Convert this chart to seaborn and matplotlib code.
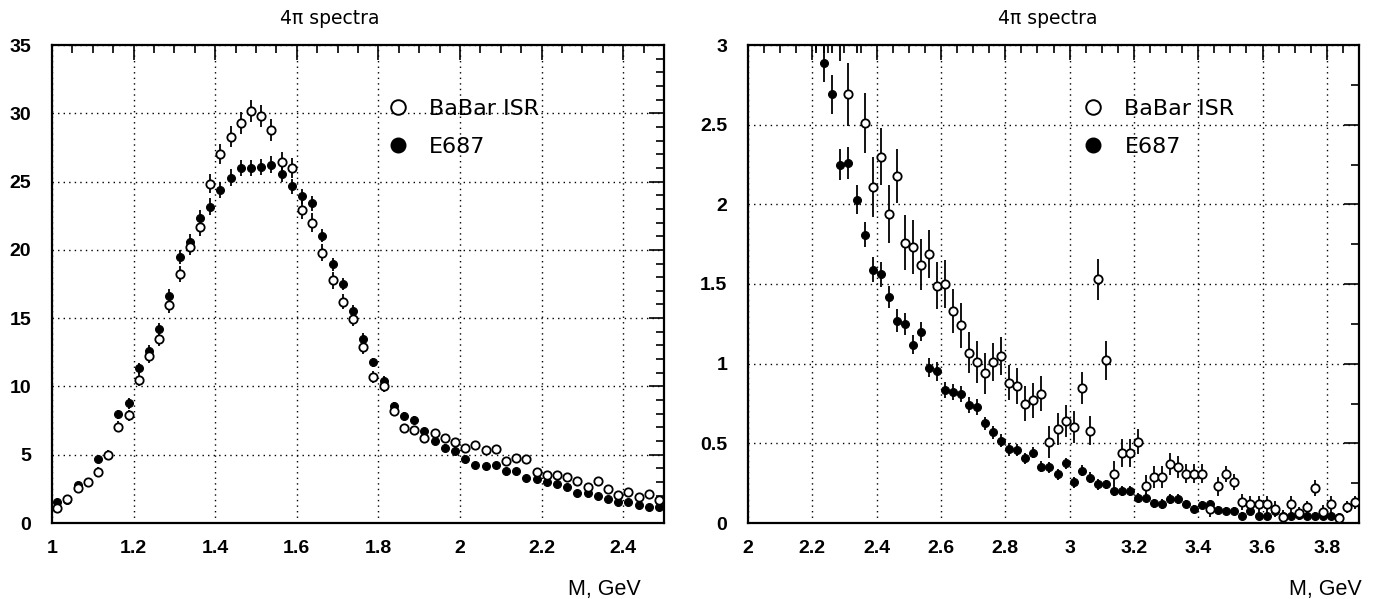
import numpy as np
import pandas as pd
import matplotlib
matplotlib.use('Agg')
import matplotlib.pyplot as plt
from matplotlib.lines import Line2D
from matplotlib.ticker import MultipleLocator, FuncFormatter
import seaborn as sns

# ---- dados ----
# painel esquerdo: 1.0 - 2.5 GeV
m_esq = [1.0125, 1.0375, 1.0625, 1.0875, 1.1125, 1.1375, 1.1625, 1.1875, 1.2125, 1.2375,
         1.2625, 1.2875, 1.3125, 1.3375, 1.3625, 1.3875, 1.4125, 1.4375, 1.4625, 1.4875,
         1.5125, 1.5375, 1.5625, 1.5875, 1.6125, 1.6375, 1.6625, 1.6875, 1.7125, 1.7375,
         1.7625, 1.7875, 1.8125, 1.8375, 1.8625, 1.8875, 1.9125, 1.9375, 1.9625, 1.9875,
         2.0125, 2.0375, 2.0625, 2.0875, 2.1125, 2.1375, 2.1625, 2.1875, 2.2125, 2.2375,
         2.2625, 2.2875, 2.3125, 2.3375, 2.3625, 2.3875, 2.4125, 2.4375, 2.4625, 2.4875]

babar_esq = [1.07, 1.75, 2.58, 3.0, 3.76, 5.0, 7.05, 7.9, 10.5, 12.24,
             13.44, 15.95, 18.24, 20.22, 21.66, 24.85, 27.02, 28.29, 29.29, 30.19,
             29.8, 28.76, 26.41, 26.0, 22.93, 22.0, 19.8, 17.76, 16.19, 14.95,
             12.9, 10.7, 10.02, 8.22, 6.93, 6.8, 6.19, 6.56, 6.19, 5.9,
             5.46, 5.71, 5.34, 5.44, 4.56, 4.73, 4.68, 3.76, 3.49, 3.49,
             3.39, 3.07, 2.66, 3.1, 2.49, 2.05, 2.24, 1.88, 2.12, 1.68]
babar_esq_err = [0.25, 0.25, 0.3, 0.3, 0.35, 0.35, 0.4, 0.4, 0.45, 0.5,
                 0.5, 0.55, 0.6, 0.6, 0.65, 0.7, 0.75, 0.75, 0.8, 0.8,
                 0.8, 0.8, 0.75, 0.75, 0.7, 0.7, 0.65, 0.6, 0.55, 0.5,
                 0.5, 0.45, 0.4, 0.35, 0.3, 0.3, 0.3, 0.3, 0.3, 0.3,
                 0.25, 0.25, 0.25, 0.25, 0.25, 0.25, 0.2, 0.2, 0.2, 0.2,
                 0.2, 0.2, 0.2, 0.2, 0.2, 0.2, 0.2, 0.2, 0.2, 0.2]

e687_esq = [1.51, 1.71, 2.78, 2.97, 4.68, 4.95, 7.95, 8.76, 11.32, 12.61,
            14.17, 16.6, 19.49, 20.58, 22.34, 23.17, 24.37, 25.29, 26.0, 26.0,
            26.07, 26.25, 25.54, 24.66, 23.93, 23.41, 21.05, 18.93, 17.49, 15.51,
            13.5, 11.76, 10.41, 8.58, 7.85, 7.56, 6.71, 6.02, 5.51, 5.29,
            4.68, 4.24, 4.14, 4.27, 3.8, 3.8, 3.32, 3.2, 2.97, 2.83,
            2.61, 2.17, 2.22, 1.98, 1.76, 1.51, 1.51, 1.32, 1.19, 1.19]
e687_esq_err = [0.2, 0.2, 0.25, 0.25, 0.3, 0.3, 0.35, 0.4, 0.4, 0.45,
                0.45, 0.5, 0.5, 0.55, 0.55, 0.6, 0.6, 0.6, 0.6, 0.6,
                0.6, 0.6, 0.6, 0.55, 0.55, 0.55, 0.5, 0.5, 0.45, 0.45,
                0.4, 0.35, 0.35, 0.3, 0.3, 0.3, 0.25, 0.25, 0.25, 0.25,
                0.25, 0.25, 0.2, 0.2, 0.2, 0.2, 0.2, 0.2, 0.2, 0.2,
                0.2, 0.2, 0.2, 0.2, 0.15, 0.15, 0.15, 0.15, 0.15, 0.15]

# painel direito: 2.0 - 3.9 GeV
m_dir = [2.2125, 2.2375, 2.2625, 2.2875, 2.3125, 2.3375, 2.3625, 2.3875, 2.4125, 2.4375,
         2.4625, 2.4875, 2.5125, 2.5375, 2.5625, 2.5875, 2.6125, 2.6375, 2.6625, 2.6875,
         2.7125, 2.7375, 2.7625, 2.7875, 2.8125, 2.8375, 2.8625, 2.8875, 2.9125, 2.9375,
         2.9625, 2.9875, 3.0125, 3.0375, 3.0625, 3.0875, 3.1125, 3.1375, 3.1625, 3.1875,
         3.2125, 3.2375, 3.2625, 3.2875, 3.3125, 3.3375, 3.3625, 3.3875, 3.4125, 3.4375,
         3.4625, 3.4875, 3.5125, 3.5375, 3.5625, 3.5875, 3.6125, 3.6375, 3.6625, 3.6875,
         3.7125, 3.7375, 3.7625, 3.7875, 3.8125, 3.8375, 3.8625, 3.8875]

babar_dir = [3.4, 3.5, 3.3, 3.35, 2.69, 3.3, 2.51, 2.11, 2.30, 1.94,
             2.18, 1.76, 1.73, 1.62, 1.69, 1.49, 1.50, 1.33, 1.24, 1.07,
             1.01, 0.94, 1.01, 1.05, 0.88, 0.86, 0.75, 0.77, 0.81, 0.51,
             0.59, 0.64, 0.60, 0.85, 0.58, 1.53, 1.02, 0.31, 0.44, 0.44,
             0.51, 0.23, 0.29, 0.29, 0.37, 0.35, 0.31, 0.31, 0.31, 0.09,
             0.23, 0.31, 0.26, 0.13, 0.12, 0.12, 0.12, 0.09, 0.04, 0.12,
             0.06, 0.10, 0.22, 0.07, 0.12, 0.03, 0.10, 0.13]
babar_dir_err = [0.45, 0.55, 0.35, 0.45, 0.2, 0.35, 0.19, 0.19, 0.18, 0.18,
                 0.17, 0.17, 0.17, 0.16, 0.15, 0.15, 0.15, 0.14, 0.14, 0.13,
                 0.13, 0.13, 0.12, 0.12, 0.11, 0.11, 0.11, 0.11, 0.11, 0.1,
                 0.1, 0.1, 0.1, 0.1, 0.09, 0.13, 0.12, 0.08, 0.09, 0.09,
                 0.08, 0.07, 0.07, 0.07, 0.07, 0.07, 0.06, 0.06, 0.06, 0.05,
                 0.06, 0.05, 0.05, 0.05, 0.05, 0.05, 0.05, 0.05, 0.04, 0.05,
                 0.04, 0.04, 0.05, 0.04, 0.05, 0.03, 0.04, 0.04]

e687_dir = [3.12, 2.889, 2.69, 2.25, 2.26, 2.03, 1.81, 1.59, 1.56, 1.42,
            1.27, 1.25, 1.12, 1.20, 0.975, 0.952, 0.835, 0.824, 0.808, 0.743,
            0.728, 0.625, 0.569, 0.516, 0.462, 0.458, 0.406, 0.441, 0.354, 0.349,
            0.305, 0.374, 0.255, 0.328, 0.285, 0.243, 0.243, 0.201, 0.201, 0.201,
            0.159, 0.159, 0.123, 0.12, 0.149, 0.149, 0.117, 0.086, 0.113, 0.117,
            0.082, 0.078, 0.078, 0.046, 0.078, 0.046, 0.046, 0.078, 0.046, 0.046,
            0.05, 0.046, 0.046, 0.046, 0.046, 0.036]
e687_dir_err = [0.15, 0.12, 0.12, 0.1, 0.1, 0.09, 0.08, 0.08, 0.08, 0.07,
                0.07, 0.07, 0.06, 0.06, 0.06, 0.06, 0.05, 0.05, 0.05, 0.05,
                0.05, 0.04, 0.04, 0.04, 0.04, 0.04, 0.035, 0.035, 0.035, 0.035,
                0.035, 0.035, 0.035, 0.035, 0.035, 0.035, 0.03, 0.03, 0.03, 0.03,
                0.03, 0.03, 0.03, 0.03, 0.03, 0.03, 0.025, 0.025, 0.025, 0.025,
                0.025, 0.025, 0.025, 0.025, 0.025, 0.025, 0.02, 0.02, 0.02, 0.02,
                0.02, 0.02, 0.02, 0.02, 0.02, 0.02]

titulo = '4\u03c0 spectra'
rotulo_x = 'M, GeV'

# ---- estilo ----
sns.set_theme(style='white')
plt.rcParams['font.family'] = ['DejaVu Sans']
plt.rcParams['text.color'] = 'black'

W, H = 1386, 599
fig = plt.figure(figsize=(W / 100, H / 100), dpi=100)
ax1 = fig.add_axes([52 / W, 76 / H, 612 / W, 478 / H])
ax2 = fig.add_axes([748 / W, 76 / H, 611 / W, 478 / H])

fmt_g = FuncFormatter(lambda v, p: f'{v:g}')


def painel(ax, m_b, y_b, e_b, m_e, y_e, e_e, xlim, ylim, xmaj, ymaj, ymin, xlab_pos):
    df_b = pd.DataFrame({'M': m_b, 'val': y_b, 'err': e_b})
    df_e = pd.DataFrame({'M': m_e, 'val': y_e, 'err': e_e})
    # E687 (cheio)
    ax.errorbar(df_e['M'], df_e['val'], yerr=df_e['err'], fmt='none',
                ecolor='black', elinewidth=1.3, capsize=0, zorder=3)
    sns.scatterplot(data=df_e, x='M', y='val', ax=ax, marker='o', s=32,
                    color='black', edgecolor='black', linewidth=0.8, zorder=4)
    # BaBar ISR (aberto)
    ax.errorbar(df_b['M'], df_b['val'], yerr=df_b['err'], fmt='none',
                ecolor='black', elinewidth=1.3, capsize=0, zorder=5)
    sns.scatterplot(data=df_b, x='M', y='val', ax=ax, marker='o', s=36,
                    facecolor='white', edgecolor='black', linewidth=1.3, zorder=6)

    ax.set_xlim(*xlim)
    ax.set_ylim(*ylim)
    ax.xaxis.set_major_locator(MultipleLocator(xmaj))
    ax.xaxis.set_minor_locator(MultipleLocator(0.05))
    ax.yaxis.set_major_locator(MultipleLocator(ymaj))
    ax.yaxis.set_minor_locator(MultipleLocator(ymin))
    ax.xaxis.set_major_formatter(fmt_g)
    ax.yaxis.set_major_formatter(fmt_g)
    ax.set_xlabel('')
    ax.set_ylabel('')
    ax.grid(True, which='major', color='black', linestyle=(0, (1, 3)), linewidth=1.0)
    ax.tick_params(which='both', direction='in', top=True, right=True,
                   color='black', width=1.2)
    ax.tick_params(which='major', length=11)
    ax.tick_params(which='minor', length=6)
    ax.tick_params(axis='x', which='major', pad=12)
    ax.tick_params(axis='y', which='major', pad=15)
    for lab in ax.get_xticklabels() + ax.get_yticklabels():
        lab.set_fontfamily('Liberation Sans')
        lab.set_fontweight('bold')
        lab.set_fontsize(14)
        lab.set_color('black')
    for sp in ax.spines.values():
        sp.set_color('black')
        sp.set_linewidth(1.6)
        sp.set_visible(True)

    handles = [Line2D([], [], marker='o', linestyle='none', markersize=10.5,
                      markerfacecolor='white', markeredgecolor='black', markeredgewidth=1.4),
               Line2D([], [], marker='o', linestyle='none', markersize=10.5,
                      markerfacecolor='black', markeredgecolor='black')]
    leg = ax.legend(handles, ['BaBar ISR', 'E687'], loc='center left',
                    bbox_to_anchor=(0.547, 0.827), frameon=False, fontsize=16,
                    handlelength=1.0, handletextpad=0.9, labelspacing=0.8,
                    borderpad=0, borderaxespad=0)
    for t in leg.get_texts():
        t.set_color('black')

    ax.text(xlab_pos, -0.14, rotulo_x, transform=ax.transAxes, ha='right', va='center',
            fontsize=15.5, fontfamily='Liberation Sans', color='black')


painel(ax1, m_esq, babar_esq, babar_esq_err, m_esq, e687_esq, e687_esq_err,
       (1.0, 2.5), (0, 35), 0.2, 5, 1, 0.962)
painel(ax2, m_dir, babar_dir, babar_dir_err, m_dir[:len(e687_dir)], e687_dir, e687_dir_err,
       (2.0, 3.9), (0, 3), 0.2, 0.5, 0.25, 1.005)

fig.text(330 / W, 1 - 18 / H, titulo, ha='center', va='center', fontsize=13.5, color='black')
fig.text(1048 / W, 1 - 18 / H, titulo, ha='center', va='center', fontsize=13.5, color='black')

fig.savefig('out.png', dpi=100, facecolor='white')
